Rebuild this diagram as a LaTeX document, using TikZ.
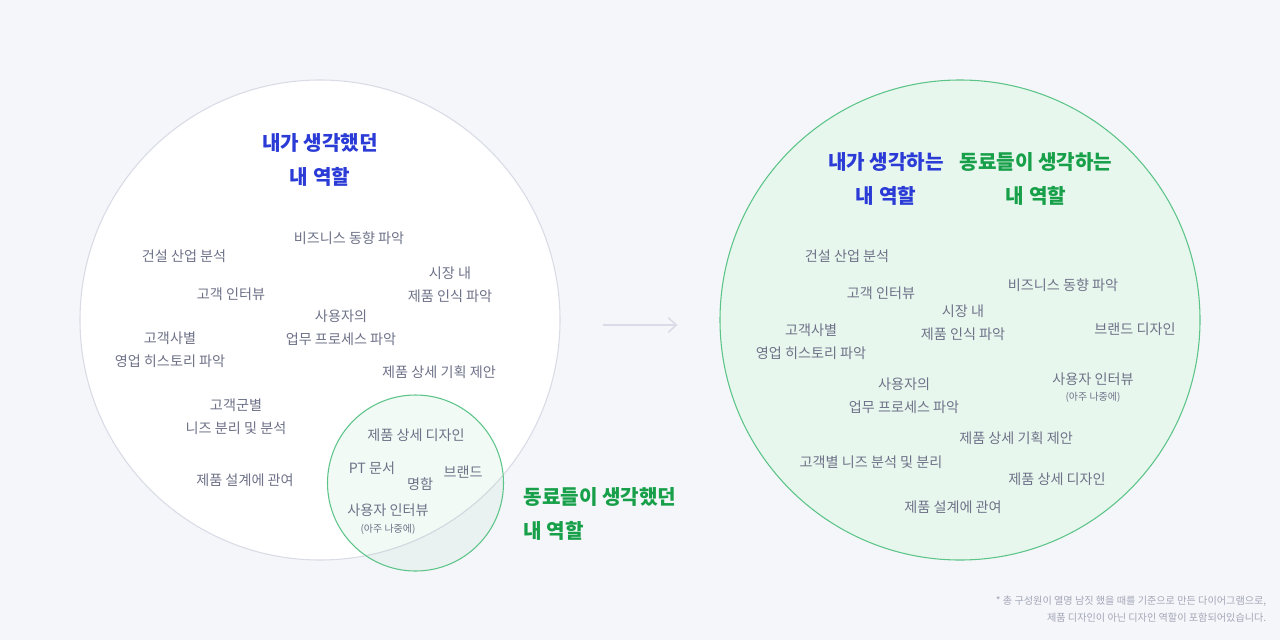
\documentclass[tikz,border=0pt]{standalone}
\usepackage{fontspec}
\setmainfont{Noto Sans CJK KR}
\usetikzlibrary{arrows.meta}

\definecolor{pagebg}{HTML}{F5F6FA}
\definecolor{ringgray}{HTML}{D9DBE6}
\definecolor{mineblue}{HTML}{2B3BD6}
\definecolor{peergreen}{HTML}{17A049}
\definecolor{ringgreen}{HTML}{5CC488}
\definecolor{softgreen}{HTML}{E8F7EE}
\definecolor{itemgray}{HTML}{6E7288}
\definecolor{notegray}{HTML}{A3A6B7}

\begin{document}
\begin{tikzpicture}[x=0.75pt,y=-0.75pt,
  ring/.style={circle,inner sep=0pt,outer sep=0pt,line width=0.8pt},
  heading/.style={font=\fontsize{15.1}{26}\selectfont\bfseries,align=center},
  item/.style={font=\fontsize{10.6}{17.25}\selectfont,text=itemgray,align=center},
  aside/.style={font=\fontsize{7.5}{9}\selectfont,text=itemgray}]
% page
\fill[pagebg] (0,0) rectangle (1280,640);
% circles
\node[ring,draw=ringgray,fill=white,minimum size=360pt] (mine) at (320,320) {};
\node[ring,draw=ringgreen,fill=ringgreen,fill opacity=0.08,minimum size=132pt] (peer) at (415.5,483) {};
\node[ring,draw=ringgreen,fill=softgreen,minimum size=360pt] (both) at (960,320) {};
% arrow
\draw[ringgray,line width=1.1pt,-{Straight Barb[length=6pt,width=11pt]},
  shorten <=32pt,shorten >=32pt]
  ([yshift=-3.75pt]mine.east) -- ([yshift=-3.75pt]both.west);

% left: titles
\node[heading,text=mineblue] (l-title) at (320,160) {내가 생각했던\\내 역할};
\node[heading,text=peergreen,anchor=west,align=left] (l-peer) at (519,514) {동료들이 생각했던\\내 역할};
% left: items
\node[item] (l-biz) at (349,238) {비즈니스 동향 파악};
\node[item] (l-build) at (184,256) {건설 산업 분석};
\node[item] (l-market) at (450,284.5) {시장 내\\제품 인식 파악};
\node[item] (l-intv) at (231,294) {고객 인터뷰};
\node[item] (l-work) at (341,328) {사용자의\\업무 프로세스 파악};
\node[item] (l-sales) at (170,349.5) {고객사별\\영업 히스토리 파악};
\node[item] (l-plan) at (439,372) {제품 상세 기획 제안};
\node[item] (l-needs) at (236,416.5) {고객군별\\니즈 분리 및 분석};
\node[item] (l-spec) at (245,480) {제품 설계에 관여};
% left: overlap items
\node[item] (l-detail) at (416,435) {제품 상세 디자인};
\node[item] (l-pt) at (372,468) {PT 문서};
\node[item] (l-card) at (420,484) {명함};
\node[item] (l-brand) at (463,472) {브랜드};
\node[item] (l-user) at (388,510) {사용자 인터뷰};
\node[aside] (l-later) at (388,529) {(아주 나중에)};

% right: titles
\node[heading,text=mineblue] (r-mine) at (886,179) {내가 생각하는\\내 역할};
\node[heading,text=peergreen] (r-peer) at (1036,179) {동료들이 생각하는\\내 역할};
% right: items
\node[item] (r-build) at (847,256) {건설 산업 분석};
\node[item] (r-intv) at (881,293) {고객 인터뷰};
\node[item] (r-biz) at (1063,285) {비즈니스 동향 파악};
\node[item] (r-market) at (963,323) {시장 내\\제품 인식 파악};
\node[item] (r-brand) at (1135,329) {브랜드 디자인};
\node[item] (r-sales) at (811,341.5) {고객사별\\영업 히스토리 파악};
\node[item] (r-work) at (904,396) {사용자의\\업무 프로세스 파악};
\node[item] (r-user) at (1093,379) {사용자 인터뷰};
\node[aside] (r-later) at (1093,397) {(아주 나중에)};
\node[item] (r-plan) at (1016,438) {제품 상세 기획 제안};
\node[item] (r-needs) at (871,462) {고객별 니즈 분석 및 분리};
\node[item] (r-detail) at (1057,479) {제품 상세 디자인};
\node[item] (r-spec) at (953,507) {제품 설계에 관여};

% footnote
\node[font=\fontsize{7.6}{12.75}\selectfont,text=notegray,align=right,anchor=east] (note)
  at (1271,609.5) {* 총 구성원이 열명 남짓 했을 때를 기준으로 만든 다이어그램으로,\\제품 디자인이 아닌 디자인 역할이 포함되어있습니다.};
\end{tikzpicture}
\end{document}
